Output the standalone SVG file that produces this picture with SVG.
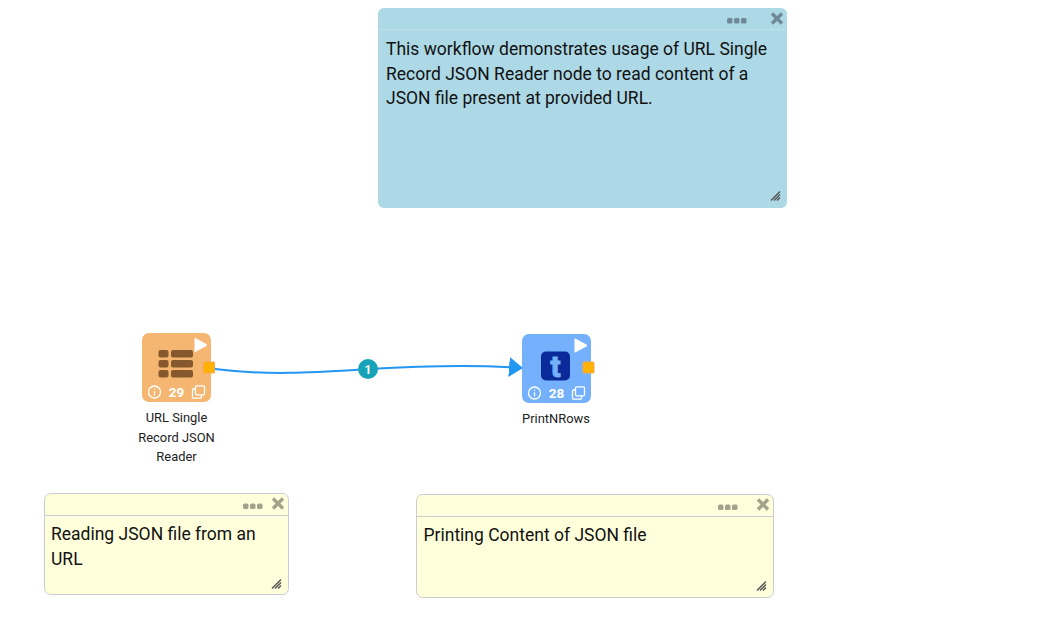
<svg xmlns="http://www.w3.org/2000/svg" width="1043" height="628" viewBox="0 0 1043 628">
<style>
text{font-family:Roboto,"Liberation Sans",sans-serif}
.nt{font-size:17.5px;fill:#111}
.lb{font-size:12.9px;fill:#222;text-anchor:middle}
.cnt{font-size:13.5px;font-weight:700;fill:#fff;text-anchor:middle}
.wh{fill:none;stroke:#fff;stroke-width:1.3}
.port{fill:#ffb300;stroke:#fba64a;stroke-width:1}
.blue .dots{fill:#6f8a96}.blue .x{stroke:#6f8a96}
.yel .dots{fill:#a3a28a}.yel .x{stroke:#a3a28a}
.x{stroke-width:3.4;fill:none}
.grip{fill:none;stroke:#555;stroke-width:1.500}
</style>
<defs>
<g id="info"><circle r="6" class="wh"/><path d="M0-.8V3.400M0-3.600V-2.300" class="wh"/></g>
<g id="copy"><rect x="-3" y="-6.200" width="9" height="9" rx="1" class="wh"/><path d="M-3-3H-5a1 1 0 0 0-1 1V5.200a1 1 0 0 0 1 1H2a1 1 0 0 0 1-1V3" class="wh"/></g>
<path id="play" d="M-6-6.500Q-6-7.500-4.800-6.800L6-1Q7 0 6 1L-4.800 6.800Q-6 7.500-6 6.500Z" fill="#fff"/>
<g id="grip"><path class="grip" d="M0 9L9 0M3 9L9 3M6 9L9 6"/></g>
<marker id="arr" markerUnits="userSpaceOnUse" markerWidth="16" markerHeight="22" refX="14" refY="10" orient="auto"><path d="M0 0L14 10L0 20Z" fill="#2196f3"/></marker>
</defs>
<g id="connectors">
<path d="M215 369C270 376 320 372 368 369C420 366 470 364 523 368" fill="none" stroke="#2196f3" stroke-width="2" marker-end="url(#arr)"/>
<g id="edge-badge"><circle cx="368" cy="369" r="10" fill="#17a2b8"/><text x="368" y="373.500" font-size="12" font-weight="700" fill="#fff" text-anchor="middle">1</text></g>
</g>
<g id="note-top" class="blue">
<rect x="378" y="8" width="409" height="200" rx="6" fill="#add8e6"/>
<path d="M379 29.500H786" stroke="#bfe0ea" stroke-width="1"/>
<g class="dots"><rect x="727" y="18" width="5.500" height="5.500" rx="1.500"/><rect x="734" y="18" width="5.500" height="5.500" rx="1.500"/><rect x="741" y="18" width="5.500" height="5.500" rx="1.500"/></g>
<path class="x" d="M772 13.500L782 23.500M782 13.500L772 23.500"/>
<use href="#grip" x="771" y="191.500"/>
<text class="nt" x="386" y="55">This workflow demonstrates usage of URL Single</text>
<text class="nt" x="386" y="80">Record JSON Reader node to read content of a</text>
<text class="nt" x="386" y="104">JSON file present at provided URL.</text>
</g>
<g id="node-29">
<rect x="142" y="333" width="69" height="69" rx="7" fill="#f4b671"/>
<g fill="#85592d"><rect x="158.500" y="350" width="10" height="7.500" rx="2"/><rect x="171" y="350" width="22" height="7.500" rx="2"/><rect x="158.500" y="360" width="10" height="7.500" rx="2"/><rect x="171" y="360" width="22" height="7.500" rx="2"/><rect x="158.500" y="370" width="10" height="7.500" rx="2"/><rect x="171" y="370" width="22" height="7.500" rx="2"/></g>
<use href="#play" x="200.500" y="345"/>
<use href="#info" x="154.500" y="392"/>
<text class="cnt" x="176.500" y="396.500">29</text>
<use href="#copy" x="198.500" y="392"/>
<rect class="port" x="203.500" y="362" width="11" height="11" rx="1"/>
<text class="lb" x="176.500" y="422">URL Single</text>
<text class="lb" x="176.500" y="442">Record JSON</text>
<text class="lb" x="176.500" y="461">Reader</text>
</g>
<g id="node-28">
<rect x="522" y="334" width="69" height="69" rx="7" fill="#74b0fb"/>
<rect x="541" y="351.500" width="29" height="29" rx="5" fill="#0a2a9a"/>
<text x="555.500" y="376.500" font-size="30" font-weight="700" fill="#74b0fb" stroke="#74b0fb" stroke-width="1" text-anchor="middle">t</text>
<use href="#play" x="580.500" y="345.500"/>
<use href="#info" x="534.500" y="393"/>
<text class="cnt" x="556.500" y="397.500">28</text>
<use href="#copy" x="578.500" y="393"/>
<rect class="port" x="583" y="362" width="11" height="11" rx="1"/>
<text class="lb" x="556" y="423">PrintNRows</text>
</g>
<g id="note-left" class="yel">
<rect x="44.500" y="493.500" width="244" height="101" rx="6" fill="#ffffdc" stroke="#c9ccd0"/>
<path d="M45 515.500H288" stroke="#c9ccd0"/>
<g class="dots"><rect x="243" y="503.500" width="5.500" height="5.500" rx="1.500"/><rect x="250" y="503.500" width="5.500" height="5.500" rx="1.500"/><rect x="257" y="503.500" width="5.500" height="5.500" rx="1.500"/></g>
<path class="x" d="M273 498.500L283 508.500M283 498.500L273 508.500"/>
<use href="#grip" x="272" y="579.500"/>
<text class="nt" x="51" y="540">Reading JSON file from an</text>
<text class="nt" x="51" y="565">URL</text>
</g>
<g id="note-right" class="yel">
<rect x="416.500" y="494.500" width="357" height="103" rx="6" fill="#ffffdc" stroke="#c9ccd0"/>
<path d="M417 516.500H773" stroke="#c9ccd0"/>
<g class="dots"><rect x="718" y="504.500" width="5.500" height="5.500" rx="1.500"/><rect x="725" y="504.500" width="5.500" height="5.500" rx="1.500"/><rect x="732" y="504.500" width="5.500" height="5.500" rx="1.500"/></g>
<path class="x" d="M758 499.500L768 509.500M768 499.500L758 509.500"/>
<use href="#grip" x="757" y="581.500"/>
<text class="nt" x="423.500" y="541">Printing Content of JSON file</text>
</g>
</svg>
